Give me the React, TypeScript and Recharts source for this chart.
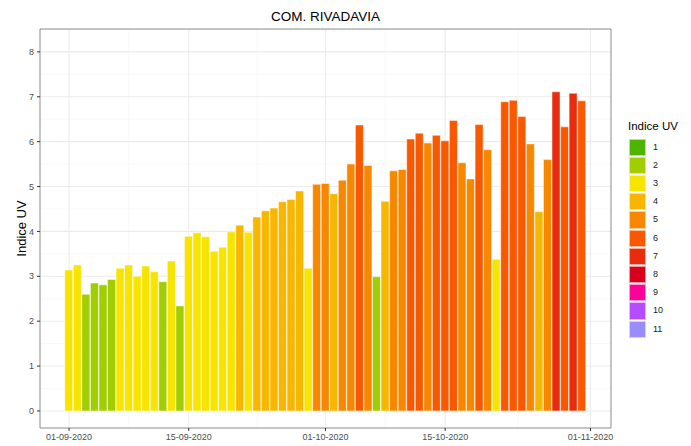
import React from 'react';
import { ComposedChart, Bar, XAxis, YAxis, Cell, CartesianGrid, ReferenceArea } from 'recharts';

const chartTitle = 'COM. RIVADAVIA';
const yTitle = 'Indice UV';
const legendTitle = 'Indice UV';

// one bar per day starting 01-09-2020 (day 0) to 31-10-2020 (day 60)
const uvValues = [
  3.14, 3.25, 2.6, 2.85, 2.81, 2.93, 3.18, 3.25, 3.0, 3.23, 3.1, 2.88, 3.34, 2.34,
  3.89, 3.97, 3.88, 3.56, 3.65, 3.99, 4.14, 3.98, 4.32, 4.46, 4.52, 4.66, 4.71, 4.9, 3.18,
  5.05, 5.07, 4.84, 5.14, 5.5, 6.37, 5.47,
  2.99,
  4.67, 5.35, 5.38, 6.06, 6.19, 5.97, 6.14, 6.02, 6.47, 5.53, 5.17, 6.38, 5.82,
  3.38,
  6.89, 6.92, 6.56, 5.95, 4.44, 5.6, 7.11, 6.33, 7.08, 6.91,
];
const uvLevels = [
  3, 3, 2, 2, 2, 2, 3, 3, 3, 3, 3, 2, 3, 2,
  3, 3, 3, 3, 3, 3, 4, 3, 4, 4, 4, 4, 4, 4, 3,
  5, 5, 4, 5, 5, 6, 5,
  2,
  4, 5, 5, 6, 6, 5, 6, 6, 6, 5, 5, 6, 5,
  3,
  6, 6, 6, 5, 4, 5, 7, 6, 7, 6,
];

const xTickDays = [0, 14, 30, 44, 61];
const xTickLabels = ['01-09-2020', '15-09-2020', '01-10-2020', '15-10-2020', '01-11-2020'];
const xMinorDays = [7, 22, 37, 52.5];
const yTicks = [0, 1, 2, 3, 4, 5, 6, 7, 8];
const yMinor = [0.5, 1.5, 2.5, 3.5, 4.5, 5.5, 6.5, 7.5, 8.5];
const legendLevels = [1, 2, 3, 4, 5, 6, 7, 8, 9, 10, 11];
const uvColors = ['#4EB400', '#A0CE00', '#F7E400', '#F8B600', '#F88700', '#F85900', '#E82C0E', '#D8001D', '#FF0099', '#B54CFF', '#998CFF'];

const xDomain = [-3.4, 63.4];
const yDomain = [-0.38, 8.51];

const data = uvValues.map((v, i) => ({ day: i, uv: v, level: uvLevels[i] }));

const FONT = '"Liberation Sans", Arial, Helvetica, sans-serif';

export default function App() {
  return (
    <div style={{ position: 'absolute', left: 0, top: 0, width: 691, height: 446, background: '#fff', fontFamily: FONT }}>
      <div style={{ position: 'absolute', left: 40, width: 571, top: 8, lineHeight: '17px', textAlign: 'center', fontSize: 13.5, color: '#000' }}>
        {chartTitle}
      </div>
      <ComposedChart width={691} height={446} data={data} margin={{ top: 29, right: 80, bottom: 0, left: 0 }} style={{ fontFamily: FONT }}>
        <CartesianGrid horizontalValues={yMinor} verticalValues={xMinorDays} stroke="#F3F3F3" strokeWidth={0.6} />
        <CartesianGrid horizontalValues={yTicks} verticalValues={xTickDays} stroke="#EBEBEB" strokeWidth={1.1} />
        <XAxis
          dataKey="day"
          type="number"
          domain={xDomain}
          allowDataOverflow
          ticks={xTickDays}
          tickFormatter={(d: number) => xTickLabels[xTickDays.indexOf(d)] ?? ''}
          interval={0}
          height={18}
          axisLine={false}
          tickLine={{ stroke: '#333' }}
          tickSize={3}
          tickMargin={2.5}
          tick={{ fontSize: 9, fill: '#4D4D4D' }}
        />
        <YAxis
          type="number"
          domain={yDomain}
          allowDataOverflow
          ticks={yTicks}
          interval={0}
          width={40}
          axisLine={false}
          tickLine={{ stroke: '#333' }}
          tickSize={3}
          tickMargin={3}
          tick={{ fontSize: 9, fill: '#4D4D4D' }}
          label={{ value: yTitle, angle: -90, position: 'insideLeft', offset: 21, style: { textAnchor: 'middle', fontSize: 13, fill: '#000' } }}
        />
        <Bar dataKey="uv" barSize={8} isAnimationActive={false} stroke="rgba(255,255,255,0.6)" strokeWidth={0.8}>
          {data.map((d, i) => (
            <Cell key={i} fill={uvColors[d.level - 1]} />
          ))}
        </Bar>
        <ReferenceArea x1={xDomain[0]} x2={xDomain[1]} y1={yDomain[0]} y2={yDomain[1]} fill="none" stroke="#8c8c8c" strokeWidth={1} ifOverflow="visible" />
      </ComposedChart>
      <div style={{ position: 'absolute', left: 628, top: 119, fontSize: 11.5, lineHeight: '15px', color: '#000', whiteSpace: 'nowrap' }}>{legendTitle}</div>
      {legendLevels.map((lv, i) => (
        <div key={lv}>
          <div style={{ position: 'absolute', left: 629, top: 138.5 + i * 18.2, width: 17.3, height: 17.3, boxSizing: 'border-box', background: uvColors[i], border: '1px solid rgba(255,255,255,0.6)' }} />
          <div style={{ position: 'absolute', left: 653, top: 138.5 + i * 18.2, lineHeight: '17.3px', fontSize: 9, color: '#222' }}>{lv}</div>
        </div>
      ))}
    </div>
  );
}
